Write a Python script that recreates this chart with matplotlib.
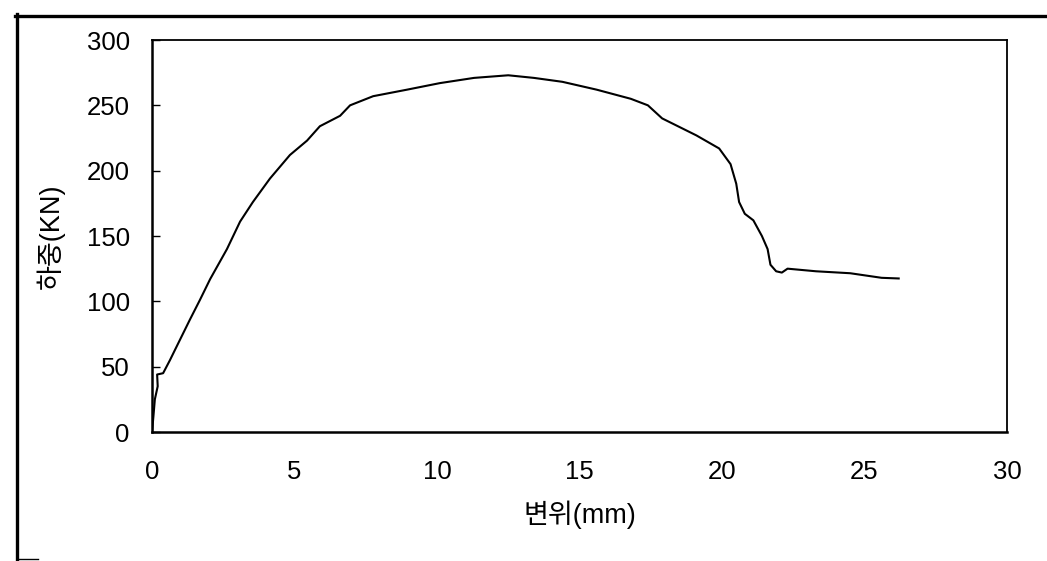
import matplotlib
matplotlib.use("Agg")
import matplotlib.pyplot as plt
from matplotlib.lines import Line2D

plt.rcParams['font.family'] = ['Liberation Sans', 'Noto Sans CJK KR', 'DejaVu Sans']

# displacement (mm) and load (kN)
disp = [0.0, 0.05, 0.1, 0.15, 0.2, 0.18, 0.39, 0.63, 0.81, 1.33, 1.68, 2.04, 2.63,
        3.09, 3.54, 4.14, 4.84, 5.44, 5.89, 6.6, 6.95, 7.76, 8.95, 10.1, 10.7,
        11.3, 12.5, 13.4, 14.4, 15.6, 16.8, 17.4, 17.9, 19.1, 19.9, 20.3, 20.5,
        20.6, 20.8, 21.1, 21.4, 21.6, 21.7, 21.9, 22.1, 22.3, 23.3, 24.5, 25.6, 26.2]
load = [0, 12, 25, 30, 35, 44, 45, 55, 63, 86, 101, 117, 140,
        161, 176, 194, 212, 223, 234, 242, 250, 257, 262, 267, 269,
        271, 273, 271, 268, 262, 255, 250, 240, 227, 217, 205, 190,
        176, 167, 162, 150, 140, 128, 123, 122, 125, 123, 121.5, 118, 117.5]

x_ticks = [0, 5, 10, 15, 20, 25, 30]
y_ticks = [0, 50, 100, 150, 200, 250, 300]

fig = plt.figure(figsize=(10.47, 5.61), dpi=100)
ax = fig.add_axes([152/1047, 1-432/561, (1007-152)/1047, (432-40)/561])

ax.plot(disp, load, color='black', lw=1.5)

ax.set_xlim(0, 30)
ax.set_ylim(0, 300)
ax.set_xticks(x_ticks)
ax.set_yticks(y_ticks)
ax.tick_params(axis='x', length=0, pad=20, labelsize=18.5)
ax.tick_params(axis='y', direction='in', length=6, width=1, pad=16, labelsize=18.5)
for s in ax.spines.values():
    s.set_linewidth(1.3)
ax.spines['left'].set_linewidth(1.8)
ax.spines['bottom'].set_linewidth(1.8)

ax.set_xlabel('변위(mm)', fontsize=19.5, labelpad=12)
ax.set_ylabel('하중(KN)', fontsize=19.5, labelpad=16)

# outer frame of the scanned figure
fig.add_artist(Line2D([17/1047, 17/1047], [0, 1-14/561], color='black', lw=2.4,
                      transform=fig.transFigure))
fig.add_artist(Line2D([15/1047, 1], [1-16/561, 1-16/561], color='black', lw=2.4,
                      transform=fig.transFigure))
fig.add_artist(Line2D([17/1047, 38/1047], [1-559/561, 1-559/561], color='black', lw=1,
                      transform=fig.transFigure))

fig.savefig('out.png', dpi=100)
